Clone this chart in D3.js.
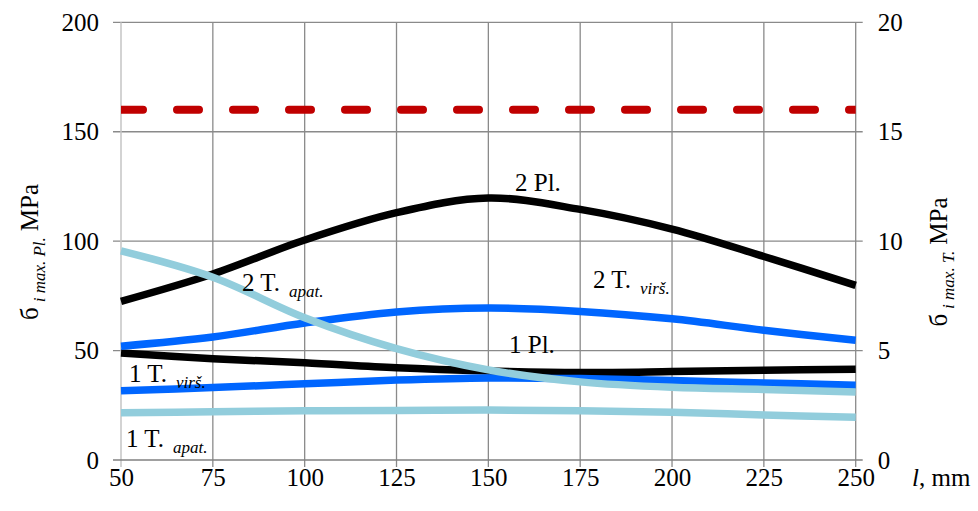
<!DOCTYPE html>
<html>
<head>
<meta charset="utf-8">
<script src="https://cdn.jsdelivr.net/npm/d3@7"></script>
<style>
  html, body { margin: 0; padding: 0; background: #fff; }
  svg { display: block; }
  svg text { font-family: "Liberation Serif", "Times New Roman", serif; }
</style>
</head>
<body>
<svg id="chart" width="978" height="511"></svg>
<script>
// Span length l, mm
const lengths = [50, 75, 100, 125, 150, 175, 200, 225, 250];

// Plate stresses, MPa (left axis)
const pl2 = [72.5, 85, 100.5, 113, 119.7, 114.5, 105.5, 93, 79.8];
const pl1 = [48.9, 46.3, 44.4, 42.1, 40.7, 40.0, 40.4, 41.0, 41.5];

// Beam stresses, MPa (right axis)
const tVirs2 = [5.20, 5.62, 6.26, 6.76, 6.94, 6.79, 6.45, 5.93, 5.47];
const tVirs1 = [3.16, 3.31, 3.48, 3.65, 3.75, 3.72, 3.63, 3.52, 3.42];
const tApat2 = [9.56, 8.35, 6.50, 5.09, 4.12, 3.57, 3.32, 3.22, 3.11];
const tApat1 = [2.16, 2.20, 2.25, 2.26, 2.28, 2.25, 2.18, 2.06, 1.95];

// Allowable stress level, MPa
const limit = 160;

const xTicks = [50, 75, 100, 125, 150, 175, 200, 225, 250];
const yLeftTicks = [0, 50, 100, 150, 200];
const yRightTicks = [0, 5, 10, 15, 20];

const svg = d3.select("#chart");
const pLeft = 121, pRight = 855.7, pTop = 22.3, pBottom = 460;

const x = d3.scaleLinear().domain([50, 250]).range([pLeft, pRight]);
const yL = d3.scaleLinear().domain([0, 200]).range([pBottom, pTop]);
const yR = d3.scaleLinear().domain([0, 20]).range([pBottom, pTop]);

const gridColor = "#8a8a8a";
const fontSize = 25;
const serif = "'Liberation Serif', 'Times New Roman', serif";

// Gridlines
const grid = svg.append("g");
grid.selectAll("line.h").data(yLeftTicks.filter(d => d > 0)).join("line")
  .attr("x1", pLeft - 8).attr("x2", pRight + 7)
  .attr("y1", d => yL(d)).attr("y2", d => yL(d))
  .attr("stroke", gridColor).attr("stroke-width", 1.3);
grid.selectAll("line.v").data(xTicks.filter(d => d > 50)).join("line")
  .attr("x1", d => x(d)).attr("x2", d => x(d))
  .attr("y1", pTop).attr("y2", pBottom + 7)
  .attr("stroke", gridColor).attr("stroke-width", 1.3);

// Left axis line (lighter)
svg.append("line")
  .attr("x1", pLeft).attr("x2", pLeft).attr("y1", pTop).attr("y2", pBottom + 7)
  .attr("stroke", "#c4c4c4").attr("stroke-width", 1.5);
// Bottom axis line
svg.append("line")
  .attr("x1", pLeft - 8).attr("x2", pRight + 7).attr("y1", pBottom).attr("y2", pBottom)
  .attr("stroke", "#808080").attr("stroke-width", 1.5);

// Axes (text only, lines drawn separately)
const axisL = svg.append("g").attr("transform", `translate(${pLeft - 22},0)`)
  .call(d3.axisLeft(yL).tickValues(yLeftTicks).tickSize(0).tickPadding(0));
const axisR = svg.append("g").attr("transform", `translate(${pRight + 22},0)`)
  .call(d3.axisRight(yR).tickValues(yRightTicks).tickSize(0).tickPadding(0));
const axisB = svg.append("g").attr("transform", `translate(0,${pBottom + 8})`)
  .call(d3.axisBottom(x).tickValues(xTicks).tickSize(0).tickPadding(0));
[axisL, axisR, axisB].forEach(a => {
  a.attr("font-family", null).attr("font-size", null);
  a.select(".domain").remove();
  a.selectAll("text").style("font-family", serif).style("font-size", fontSize + "px").attr("fill", "#000");
});
axisB.selectAll("text").attr("dy", "0.71em");

// Clip to plot area
svg.append("clipPath").attr("id", "plot")
  .append("rect").attr("x", pLeft).attr("y", pTop - 10).attr("width", pRight - pLeft).attr("height", pBottom - pTop + 20);

const plot = svg.append("g").attr("clip-path", "url(#plot)");

// Allowable stress, dashed
plot.append("line")
  .attr("x1", x(50)).attr("x2", x(250))
  .attr("y1", yL(limit)).attr("y2", yL(limit))
  .attr("stroke", "#c00000").attr("stroke-width", 8)
  .attr("stroke-linecap", "round").attr("stroke-dasharray", "22,34");

const curve = d3.curveCatmullRom.alpha(0.5);
const lineL = d3.line().x((d, i) => x(lengths[i])).y(d => yL(d)).curve(curve);
const lineR = d3.line().x((d, i) => x(lengths[i])).y(d => yR(d)).curve(curve);

const series = [
  { data: pl2, gen: lineL, color: "#000000", w: 7.5 },
  { data: pl1, gen: lineL, color: "#000000", w: 7.5 },
  { data: tVirs2, gen: lineR, color: "#0066ff", w: 7.5 },
  { data: tVirs1, gen: lineR, color: "#0066ff", w: 7.5 },
  { data: tApat2, gen: lineR, color: "#92cddc", w: 7.5 },
  { data: tApat1, gen: lineR, color: "#92cddc", w: 7.5 }
];
svg.selectAll("path.series").data(series).join("path")
  .attr("class", "series")
  .attr("d", s => s.gen(s.data))
  .attr("fill", "none").attr("stroke", s => s.color)
  .attr("stroke-width", s => s.w).attr("stroke-linejoin", "round");

// Series labels
const labels = [
  { x: 515, y: 191, main: "2 Pl.", sub: "" },
  { x: 593, y: 288, main: "2 T.", sub: "virš." },
  { x: 509, y: 353, main: "1 Pl.", sub: "" },
  { x: 242, y: 291, main: "2 T.", sub: "apat." },
  { x: 129, y: 382, main: "1 T.", sub: "virš." },
  { x: 126, y: 447, main: "1 T.", sub: "apat." }
];
labels.forEach(l => {
  const t = svg.append("text").attr("x", l.x).attr("y", l.y)
    .style("font-size", fontSize + "px").attr("fill", "#000");
  t.append("tspan").text(l.main);
  if (l.sub) {
    t.append("tspan").attr("dx", 9).attr("dy", 6)
      .style("font-size", "17px").style("font-style", "italic").text(l.sub);
  }
});

// Axis titles
function axisTitle(cx, cy, sub) {
  const t = svg.append("text")
    .attr("transform", `translate(${cx},${cy}) rotate(-90)`)
    .attr("text-anchor", "middle").style("font-size", "25px").attr("fill", "#000");
  t.append("tspan").text("б");
  t.append("tspan").attr("dx", 5).attr("dy", 7).style("font-size", "17px")
    .style("font-style", "italic").text(sub);
  t.append("tspan").attr("dx", 6).attr("dy", -7).text("MPa");
}
axisTitle(38, 252, "i max. Pl.");
axisTitle(947, 262, "i max. T.");

const xt = svg.append("text").attr("x", 912).attr("y", 486)
  .style("font-size", fontSize + "px").attr("fill", "#000");
xt.append("tspan").style("font-style", "italic").text("l");
xt.append("tspan").text(", mm");
</script>
</body>
</html>
